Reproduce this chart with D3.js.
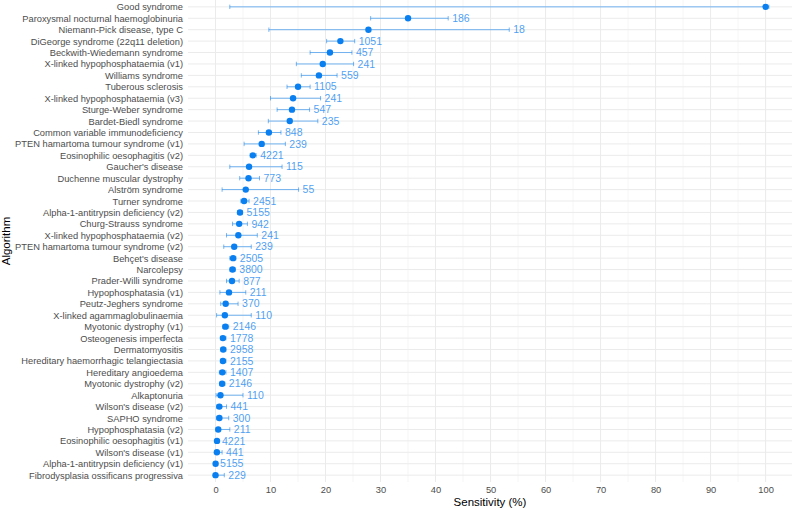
<!DOCTYPE html>
<html>
<head>
<meta charset="utf-8">
<script src="https://cdn.jsdelivr.net/npm/d3@7"></script>
<style>
  body { margin: 0; background: #fff; }
  text { font-family: "Liberation Sans", Arial, sans-serif; }
</style>
</head>
<body>
<div id="chart"></div>
<script>
// rows top to bottom
var algorithms = ["Good syndrome", "Paroxysmal nocturnal haemoglobinuria", "Niemann-Pick disease, type C",
  "DiGeorge syndrome (22q11 deletion)", "Beckwith-Wiedemann syndrome", "X-linked hypophosphataemia (v1)",
  "Williams syndrome", "Tuberous sclerosis", "X-linked hypophosphataemia (v3)", "Sturge-Weber syndrome",
  "Bardet-Biedl syndrome", "Common variable immunodeficiency", "PTEN hamartoma tumour syndrome (v1)",
  "Eosinophilic oesophagitis (v2)", "Gaucher's disease", "Duchenne muscular dystrophy", "Alström syndrome",
  "Turner syndrome", "Alpha-1-antitrypsin deficiency (v2)", "Churg-Strauss syndrome",
  "X-linked hypophosphataemia (v2)", "PTEN hamartoma tumour syndrome (v2)", "Behçet's disease", "Narcolepsy",
  "Prader-Willi syndrome", "Hypophosphatasia (v1)", "Peutz-Jeghers syndrome", "X-linked agammaglobulinaemia",
  "Myotonic dystrophy (v1)", "Osteogenesis imperfecta", "Dermatomyositis", "Hereditary haemorrhagic telangiectasia",
  "Hereditary angioedema", "Myotonic dystrophy (v2)", "Alkaptonuria", "Wilson's disease (v2)", "SAPHO syndrome",
  "Hypophosphatasia (v2)", "Eosinophilic oesophagitis (v1)", "Wilson's disease (v1)",
  "Alpha-1-antitrypsin deficiency (v1)", "Fibrodysplasia ossificans progressiva"];
var sensitivity = [100, 35.0, 27.8, 22.7, 20.8, 19.5, 18.8, 15.0, 14.1, 13.9, 13.5, 9.7, 8.4, 6.8, 6.1, 6.0, 5.5,
  5.2, 4.45, 4.3, 4.15, 3.4, 3.2, 3.1, 3.0, 2.45, 1.85, 1.7, 1.8, 1.35, 1.4, 1.35, 1.25, 1.2, 0.9, 0.7, 0.7, 0.5,
  0.27, 0.25, 0.02, 0.0];
var lower = [2.6, 28.2, 9.7, 20.2, 17.2, 14.7, 15.6, 13.0, 10.0, 11.2, 9.6, 7.8, 5.2, 6.3, 2.6, 4.4, 1.2,
  4.6, 4.0, 3.1, 2.0, 1.5, 2.6, 2.6, 2.0, 0.8, 0.95, 0.2, 1.3, 0.9, 1.0, 0.9, 0.7, 0.8, 0.1, 0.2, 0.15, 0.1,
  0.15, 0.05, 0.0, 0.0];
var upper = [100.6, 42.3, 53.4, 25.3, 24.8, 25.1, 22.1, 17.2, 19.1, 17.1, 18.6, 11.9, 12.7, 7.4, 12.1, 8.0, 15.1,
  6.1, 4.9, 5.8, 7.6, 6.5, 3.7, 3.6, 4.3, 5.5, 4.1, 6.5, 2.4, 1.9, 1.9, 1.9, 1.9, 1.7, 5.0, 2.0, 2.4, 2.6,
  0.45, 1.2, 0.1, 1.6];
var cases = [null, 186, 18, 1051, 457, 241, 559, 1105, 241, 547, 235, 848, 239, 4221, 115, 773, 55,
  2451, 5155, 942, 241, 239, 2505, 3800, 877, 211, 370, 110, 2146, 1778, 2958, 2155, 1407, 2146, 110, 441, 300, 211,
  4221, 441, 5155, 229];
var xTicks = [0, 10, 20, 30, 40, 50, 60, 70, 80, 90, 100];

var rows = algorithms.map(function(a, i) {
  return {name: a, est: sensitivity[i], lo: lower[i], hi: upper[i], n: cases[i]};
});

var width = 794, height = 510;
var pLeft = 188, pRight = 792, pTop = 0, pBottom = 482;

var svg = d3.select("#chart").append("svg")
  .attr("width", width)
  .attr("height", height);

var x = d3.scaleLinear().domain([-5, 104.8]).range([pLeft, pRight]);
var y = d3.scalePoint().domain(algorithms).range([pTop, pBottom]).padding(0.6);

// grid
var minor = d3.range(5, 100, 10);
svg.append("g").selectAll("line").data(minor).enter().append("line")
  .attr("x1", function(d) { return x(d); })
  .attr("x2", function(d) { return x(d); })
  .attr("y1", pTop).attr("y2", pBottom)
  .attr("stroke", "#ebebeb").attr("stroke-width", 0.5);

svg.append("g").selectAll("line").data(xTicks).enter().append("line")
  .attr("x1", function(d) { return x(d); })
  .attr("x2", function(d) { return x(d); })
  .attr("y1", pTop).attr("y2", pBottom)
  .attr("stroke", "#ebebeb").attr("stroke-width", 1);

svg.append("g").selectAll("line").data(algorithms).enter().append("line")
  .attr("x1", pLeft).attr("x2", pRight)
  .attr("y1", function(d) { return y(d); })
  .attr("y2", function(d) { return y(d); })
  .attr("stroke", "#ebebeb").attr("stroke-width", 1);

// axes
var xAxis = svg.append("g")
  .attr("transform", "translate(0," + pBottom + ")")
  .call(d3.axisBottom(x).tickValues(xTicks).tickSize(0).tickPadding(4));
xAxis.select(".domain").remove();
xAxis.selectAll("text").attr("fill", "#4d4d4d").style("font-size", "9.3px")
  .style("font-family", "Liberation Sans, Arial, sans-serif");

var yAxis = svg.append("g")
  .attr("transform", "translate(" + pLeft + ",0)")
  .call(d3.axisLeft(y).tickSize(0).tickPadding(5));
yAxis.select(".domain").remove();
yAxis.selectAll("text").attr("fill", "#4d4d4d").style("font-size", "9.3px")
  .style("font-family", "Liberation Sans, Arial, sans-serif");

svg.append("text")
  .attr("x", (pLeft + pRight) / 2)
  .attr("y", 506)
  .attr("text-anchor", "middle")
  .style("font-size", "11.5px")
  .text("Sensitivity (%)");

svg.append("text")
  .attr("transform", "translate(10," + ((pTop + pBottom) / 2) + ") rotate(-90)")
  .attr("text-anchor", "middle")
  .style("font-size", "11.5px")
  .text("Algorithm");

// error bars
var col = "#0a7ff0";
var g = svg.append("g");
var cap = 2.2;
g.selectAll("line.ci").data(rows).enter().append("line")
  .attr("class", "ci")
  .attr("x1", function(d) { return x(d.lo); })
  .attr("x2", function(d) { return x(d.hi); })
  .attr("y1", function(d) { return y(d.name); })
  .attr("y2", function(d) { return y(d.name); })
  .attr("stroke", col).attr("stroke-opacity", 0.55).attr("stroke-width", 1);
g.selectAll("line.lo").data(rows).enter().append("line")
  .attr("class", "lo")
  .attr("x1", function(d) { return x(d.lo); })
  .attr("x2", function(d) { return x(d.lo); })
  .attr("y1", function(d) { return y(d.name) - cap; })
  .attr("y2", function(d) { return y(d.name) + cap; })
  .attr("stroke", col).attr("stroke-opacity", 0.55).attr("stroke-width", 1);
g.selectAll("line.hi").data(rows).enter().append("line")
  .attr("class", "hi")
  .attr("x1", function(d) { return x(d.hi); })
  .attr("x2", function(d) { return x(d.hi); })
  .attr("y1", function(d) { return y(d.name) - cap; })
  .attr("y2", function(d) { return y(d.name) + cap; })
  .attr("stroke", col).attr("stroke-opacity", 0.55).attr("stroke-width", 1);

g.selectAll("circle").data(rows).enter().append("circle")
  .attr("cx", function(d) { return x(d.est); })
  .attr("cy", function(d) { return y(d.name); })
  .attr("r", 3.2)
  .attr("fill", col);

g.selectAll("text.n").data(rows.filter(function(d) { return d.n !== null; })).enter().append("text")
  .attr("class", "n")
  .attr("x", function(d) { return x(d.hi) + 4; })
  .attr("y", function(d) { return y(d.name); })
  .attr("dy", "0.35em")
  .attr("fill", col).attr("fill-opacity", 0.75)
  .style("font-size", "10.5px")
  .text(function(d) { return d.n; });
</script>
</body>
</html>
